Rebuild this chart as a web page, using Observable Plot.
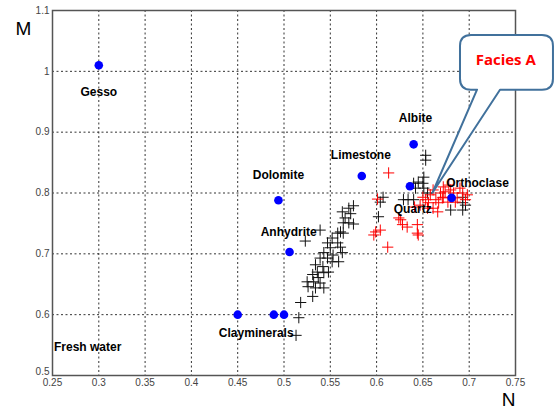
<!DOCTYPE html>
<html>
<head>
<meta charset="utf-8">
<script src="https://cdn.jsdelivr.net/npm/d3@7"></script>
<script src="https://cdn.jsdelivr.net/npm/@observablehq/plot@0.6"></script>
<style>
  html, body { margin: 0; padding: 0; background: #fff; }
  svg { display: block; }
</style>
</head>
<body>
<div id="chart"></div>
<script>
// Reference minerals (blue dots)
const mineralNames = ["Gesso", "Albite", "Limestone", "Dolomite", "Quartz", "Orthoclase", "Anhydrite", "Clay 1", "Clay 2", "Clay 3"];
const mineralN = [0.300, 0.640, 0.584, 0.494, 0.636, 0.681, 0.506, 0.450, 0.489, 0.500];
const mineralM = [1.010, 0.880, 0.828, 0.788, 0.811, 0.792, 0.703, 0.600, 0.600, 0.600];

// Text labels (anchor in data units)
const labelText = ["Gesso", "Albite", "Limestone", "Dolomite", "Orthoclase", "Anhydrite", "Quartz", "Clayminerals", "Fresh water"];
const labelN = [0.300, 0.642, 0.583, 0.494, 0.709, 0.505, 0.639, 0.470, 0.288];
const labelM = [0.966, 0.923, 0.862, 0.830, 0.816, 0.736, 0.774, 0.570, 0.546];

// Samples (black +)
const blackN = [0.575, 0.570, 0.563, 0.572, 0.566, 0.570, 0.575, 0.564, 0.561, 0.558, 0.564, 0.539, 0.523, 0.552, 0.547, 0.558, 0.550, 0.561, 0.543, 0.553, 0.563, 0.539, 0.547, 0.552, 0.559, 0.534, 0.542, 0.536, 0.543, 0.548, 0.531, 0.537, 0.525, 0.532, 0.539, 0.526, 0.534, 0.543, 0.531, 0.518, 0.516, 0.513,
  0.653, 0.653, 0.651, 0.645, 0.640, 0.650, 0.642, 0.651, 0.634, 0.640, 0.629, 0.655, 0.607, 0.604, 0.602, 0.693, 0.693, 0.680, 0.693, 0.696];
const blackM = [0.779, 0.775, 0.769, 0.766, 0.759, 0.751, 0.749, 0.751, 0.736, 0.734, 0.734, 0.739, 0.721, 0.726, 0.718, 0.718, 0.710, 0.711, 0.702, 0.698, 0.702, 0.693, 0.693, 0.687, 0.687, 0.682, 0.679, 0.670, 0.669, 0.670, 0.666, 0.661, 0.654, 0.654, 0.652, 0.646, 0.644, 0.644, 0.630, 0.620, 0.595, 0.566,
  0.862, 0.854, 0.826, 0.818, 0.816, 0.816, 0.808, 0.808, 0.789, 0.789, 0.789, 0.800, 0.793, 0.785, 0.761, 0.793, 0.784, 0.772, 0.772, 0.780];

// Facies A samples (red +)
const redN = [0.613, 0.601, 0.599, 0.604, 0.597, 0.612, 0.626, 0.628, 0.633, 0.644, 0.624, 0.645, 0.644,
  0.658, 0.664, 0.656, 0.667, 0.671, 0.661, 0.655, 0.666, 0.672, 0.678, 0.674, 0.683, 0.693, 0.672, 0.687, 0.677, 0.685, 0.698, 0.653, 0.647, 0.661, 0.669, 0.680, 0.690, 0.696, 0.641, 0.650];
const redM = [0.833, 0.790, 0.736, 0.739, 0.731, 0.711, 0.756, 0.748, 0.744, 0.734, 0.759, 0.731, 0.748,
  0.797, 0.789, 0.784, 0.784, 0.792, 0.775, 0.775, 0.769, 0.810, 0.813, 0.802, 0.800, 0.800, 0.793, 0.792, 0.785, 0.785, 0.797, 0.789, 0.780, 0.805, 0.800, 0.805, 0.808, 0.789, 0.777, 0.793];

// Axis ticks
const xTicks = [0.25, 0.3, 0.35, 0.4, 0.45, 0.5, 0.55, 0.6, 0.65, 0.7, 0.75];
const yTicks = [0.5, 0.6, 0.7, 0.8, 0.9, 1, 1.1];

// Callout annotation "Facies A" (data units)
const calloutText = "Facies A";
const calloutTip = [0.661, 0.800];
const calloutBox = [0.6906, 0.791, 1.059, 0.969]; // n0, n1, mTop, mBottom
const calloutTail = [0.709, 0.7338];
const calloutCenter = [0.740, 1.017];

const minerals = mineralNames.map((name, i) => ({name, n: mineralN[i], m: mineralM[i]}));
const labels = labelText.map((t, i) => ({t, n: labelN[i], m: labelM[i]}));
const black = blackN.map((n, i) => ({n, m: blackM[i]}));
const red = redN.map((n, i) => ({n, m: redM[i]}));

function calloutMark(index, scales) {
  const x = scales.x, y = scales.y;
  const x0 = x(calloutBox[0]), x1 = x(calloutBox[1]);
  const y0 = y(calloutBox[2]), y1 = y(calloutBox[3]);
  const a = x(calloutTail[0]), b = x(calloutTail[1]);
  const tx = x(calloutTip[0]), ty = y(calloutTip[1]);
  const r = 11;
  const d = `M${x0 + r},${y0} H${x1 - r} Q${x1},${y0} ${x1},${y0 + r} V${y1 - r} Q${x1},${y1} ${x1 - r},${y1} H${b} L${tx},${ty} L${a},${y1} H${x0 + r} Q${x0},${y1} ${x0},${y1 - r} V${y0 + r} Q${x0},${y0} ${x0 + r},${y0} Z`;
  const g = d3.create("svg:g");
  g.append("path").attr("d", d).attr("fill", "#fff").attr("stroke", "#41719c").attr("stroke-width", 2).attr("stroke-linejoin", "round");
  g.append("text")
    .attr("x", x(calloutCenter[0])).attr("y", y(calloutCenter[1]))
    .attr("text-anchor", "middle").attr("dominant-baseline", "middle")
    .attr("fill", "#ff0000").attr("font-weight", "bold")
    .attr("font-family", "'Open Sans', 'Liberation Sans', sans-serif").attr("font-size", 15)
    .text(calloutText);
  return g.node();
}

const chart = Plot.plot({
  width: 554,
  height: 412,
  marginLeft: 52,
  marginRight: 39,
  marginTop: 10,
  marginBottom: 37,
  style: {fontFamily: "'Liberation Sans', Arial, sans-serif", background: "#fff", overflow: "visible"},
  x: {domain: [0.25, 0.75]},
  y: {domain: [0.5, 1.1]},
  marks: [
    Plot.gridX(xTicks.slice(1, -1), {stroke: "#333", strokeOpacity: 1, strokeWidth: 1, strokeDasharray: "2,2.5"}),
    Plot.gridY(yTicks.slice(1, -1), {stroke: "#333", strokeOpacity: 1, strokeWidth: 1, strokeDasharray: "2,2.5"}),
    Plot.axisX(xTicks, {tickSize: 0, tickPadding: 3, fontSize: 10, fill: "#444", tickFormat: d => String(d), label: null}),
    Plot.axisY(yTicks.slice(1), {tickSize: 0, tickPadding: 3, fontSize: 10, fill: "#444", tickFormat: d => String(d), label: null}),
    Plot.axisY(yTicks.slice(0, 1), {tickSize: 0, tickPadding: 3, dy: -4, fontSize: 10, fill: "#444", tickFormat: d => String(d), label: null}),
    Plot.frame({stroke: "#555", strokeWidth: 1.5}),
    Plot.dot(black, {x: "n", y: "m", symbol: "plus", r: 3.7, stroke: "#111", strokeWidth: 1}),
    Plot.dot(red, {x: "n", y: "m", symbol: "plus", r: 3.7, stroke: "#ff0000", strokeWidth: 1}),
    Plot.dot(minerals, {x: "n", y: "m", r: 4.3, fill: "#0000ff", stroke: "none"}),
    Plot.text(labels, {x: "n", y: "m", text: "t", fontSize: 12, fontWeight: "bold", fill: "#000"}),
    Plot.text(["M"], {frameAnchor: "top-left", dx: -29, dy: 11, fontSize: 19, fill: "#000", textAnchor: "middle"}),
    Plot.text(["N"], {frameAnchor: "bottom-right", dx: -7, dy: 30, fontSize: 19, fill: "#000", textAnchor: "middle"}),
    calloutMark
  ]
});
document.getElementById("chart").appendChild(chart);
</script>
</body>
</html>
